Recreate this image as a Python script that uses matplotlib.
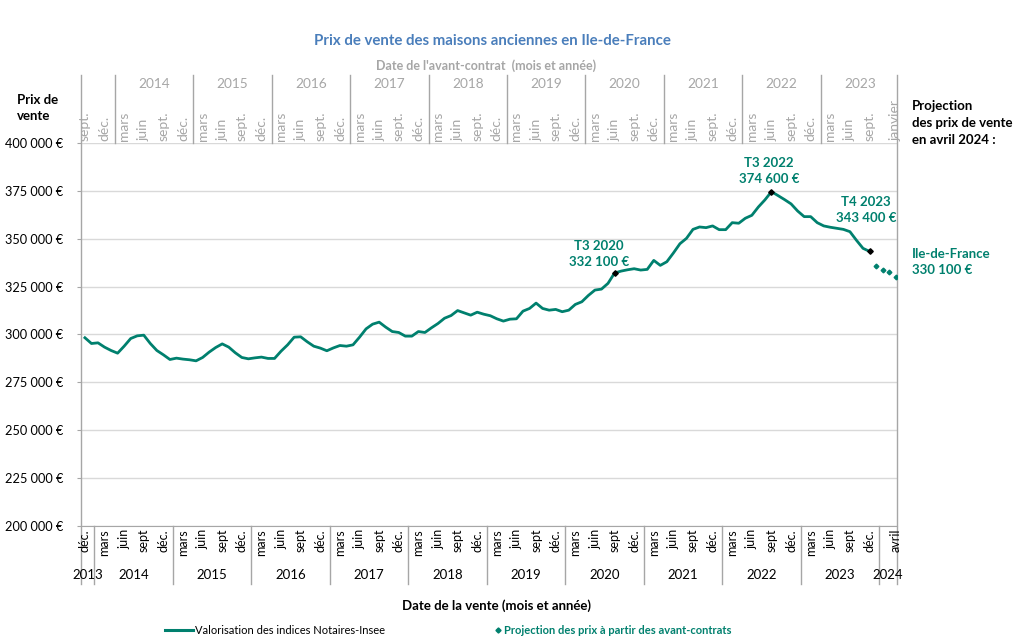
import matplotlib
matplotlib.use("Agg")
import matplotlib.pyplot as plt
import matplotlib.transforms as mtransforms
import numpy as np

plt.rcParams['font.family'] = ['Lato', 'DejaVu Sans']

# ---------------- data ----------------
# monthly sale-date index 0 = déc. 2013 ... 120 = déc. 2023
prices = [298300, 295300, 295650, 293400, 291650, 290250, 293900, 297900, 299300, 299650,
          295300, 291650, 289400, 286950, 287650, 287150, 286800, 286250, 288000, 290800,
          293200, 295100, 293400, 290450, 288000, 287300, 287800, 288200, 287500, 287500,
          291300, 294600, 298600, 298800, 296200, 293900, 292900, 291500, 293000, 294250,
          293900, 294600, 298600, 302950, 305400, 306450, 303850, 301550, 301050, 299150,
          299150, 301550, 301050, 303500, 305750, 308500, 309900, 312500, 311300, 310100,
          311650, 310600, 309800, 308200, 307000, 308000, 308200, 312200, 313600, 316400,
          313600, 312700, 313100, 311900, 312700, 315700, 317100, 320400, 323200, 323700,
          326700, 332100, 333100, 333800, 334350, 333650, 334000, 338700, 336100, 338000,
          342550, 347400, 350200, 354900, 356150, 355800, 356700, 354750, 354750, 358400,
          358100, 360700, 362250, 366600, 370300, 374600, 372550, 370450, 368200, 364500,
          361550, 361550, 358400, 356700, 356000, 355450, 354900, 353700, 349200, 345000,
          343400]
proj_idx = [121, 122, 123, 124]
proj_vals = [335700, 333800, 332500, 330100]

annot_idx = [81, 105, 120]
annot_lbl = ["T3 2020\n332 100 €", "T3 2022\n374 600 €", "T4 2023\n343 400 €"]

bottom_month_labels = ["déc."] + ["mars", "juin", "sept", "déc."] * 10 + ["avril"]
bottom_month_idx = list(range(0, 121, 3)) + [124]
top_month_labels = ["sept.", "déc."] + ["mars", "juin", "sept.", "déc."] * 9 + ["mars", "juin", "sept.", "janvier"]
top_month_idx = list(range(0, 121, 3)) + [124]
bottom_years = ["2013", "2014", "2015", "2016", "2017", "2018", "2019", "2020", "2021", "2022", "2023", "2024"]
top_years = ["2014", "2015", "2016", "2017", "2018", "2019", "2020", "2021", "2022", "2023"]

y_ticks = [200000, 225000, 250000, 275000, 300000, 325000, 350000, 375000, 400000]

# ---------------- styles ----------------
TEAL = "#00806E"
GRAY = "#A6A6A6"
GRID = "#D9D9D9"
BLUE = "#4A7EBB"

W, H = 1020, 641
fig = plt.figure(figsize=(W / 100, H / 100), dpi=100)
L, R, T, B = 81, 897, 143, 526
ax = fig.add_axes([L / W, 1 - B / H, (R - L) / W, (B - T) / H])

def fy(ypx):  # pixel row -> axes fraction
    return (B - ypx) / (B - T)

def ftext(x, y, s, **kw):
    fig.text(x / W, 1 - y / H, s, **kw)

x = np.arange(len(prices))
ax.plot(x, prices, color=TEAL, lw=2.0, solid_joinstyle='round', zorder=3)
ax.plot(proj_idx, proj_vals, ls='none', marker='D', ms=2.4, color=TEAL, zorder=3)
ax.plot(annot_idx, [prices[i] for i in annot_idx], ls='none', marker='D', ms=2.8,
        color='black', zorder=4)

ax.set_xlim(-0.6, 124.2)
ax.set_ylim(200000, 400000)
ax.set_yticks(y_ticks)
ax.set_yticklabels([f"{v:,}".replace(",", " ") + " €" for v in y_ticks], fontsize=9.2)
ax.grid(axis='y', color=GRID, lw=1)
ax.set_axisbelow(True)
ax.set_xticks([])
ax.tick_params(axis='y', length=3, color=GRAY, pad=10)
for s in ['top', 'right']:
    ax.spines[s].set_visible(False)
ax.spines['left'].set_visible(False)
ax.spines['bottom'].set_color(GRAY)

tr = mtransforms.blended_transform_factory(ax.transData, ax.transAxes)

# vertical frame lines (left and right) extending above and below
for xv in [-0.6, 124.2]:
    ax.plot([xv, xv], [fy(75), fy(584)], transform=tr, color=GRAY, lw=1, clip_on=False)

# bottom category axis
for k in range(11):
    xs = 1.45 + 12 * k
    ax.plot([xs, xs], [0, fy(584)], transform=tr, color=GRAY, lw=1, clip_on=False)
for i, lab in zip(bottom_month_idx, bottom_month_labels):
    ax.text(i, fy(529), lab, transform=tr, rotation=90, ha='center', va='top',
            fontsize=9, color='black', clip_on=False)
bottom_year_x = [0.4] + [7.45 + 12 * k for k in range(10)] + [122.8]
for xv, lab in zip(bottom_year_x, bottom_years):
    ax.text(xv, fy(575), lab, transform=tr, ha='center', va='center', fontsize=9.5,
            color='black', clip_on=False)

# top category axis (avant-contrat)
for k in range(10):
    xs = 4.55 + 12 * k
    ax.plot([xs, xs], [1, fy(75)], transform=tr, color=GRAY, lw=1, clip_on=False)
for i, lab in zip(top_month_idx, top_month_labels):
    ax.text(i, fy(141), lab, transform=tr, rotation=90, ha='center', va='bottom',
            fontsize=10, color=GRAY, clip_on=False)
for k, lab in enumerate(top_years):
    ax.text(10.55 + 12 * k, fy(84), lab, transform=tr, ha='center', va='center',
            fontsize=9.8, color=GRAY, clip_on=False)

# annotations
annot_pos = [(599, 254), (769, 171), (866, 210)]
for (px, py), lab in zip(annot_pos, annot_lbl):
    ftext(px, py, lab, ha='center', va='center', fontsize=9.5, fontweight='bold',
          color=TEAL, linespacing=1.45)

# texts
ftext(492, 41, "Prix de vente des maisons anciennes en Ile-de-France", ha='center',
      va='center', fontsize=10.8, fontweight='bold', color=BLUE)
ftext(486, 66, "Date de l'avant-contrat  (mois et année)", ha='center', va='center',
      fontsize=9, fontweight='bold', color=GRAY)
ftext(17, 108, "Prix de\nvente", ha='left', va='center', fontsize=9.5,
      fontweight='bold', color='black', linespacing=1.45)
ftext(912, 123, "Projection\ndes prix de vente\nen avril 2024 :", ha='left', va='center',
      fontsize=9.5, fontweight='bold', color='black', linespacing=1.45)
ftext(912, 262, "Ile-de-France\n330 100 €", ha='left', va='center', fontsize=9.5,
      fontweight='bold', color=TEAL, linespacing=1.45)
ftext(497, 606, "Date de la vente (mois et année)", ha='center', va='center',
      fontsize=9.5, fontweight='bold', color='black')

# legend
fig.add_artist(plt.Line2D([165 / W, 193 / W], [1 - 630 / H] * 2, color=TEAL, lw=2.2))
ftext(195, 630, "Valorisation des indices Notaires-Insee", ha='left', va='center',
      fontsize=8, color='black')
fig.add_artist(plt.Line2D([498 / W], [1 - 630 / H], ls='none', marker='D', ms=2.6,
                          color=TEAL))
ftext(504, 630, "Projection des prix à partir des avant-contrats", ha='left',
      va='center', fontsize=8, fontweight='bold', color=TEAL)

fig.savefig("out.png", dpi=100)
